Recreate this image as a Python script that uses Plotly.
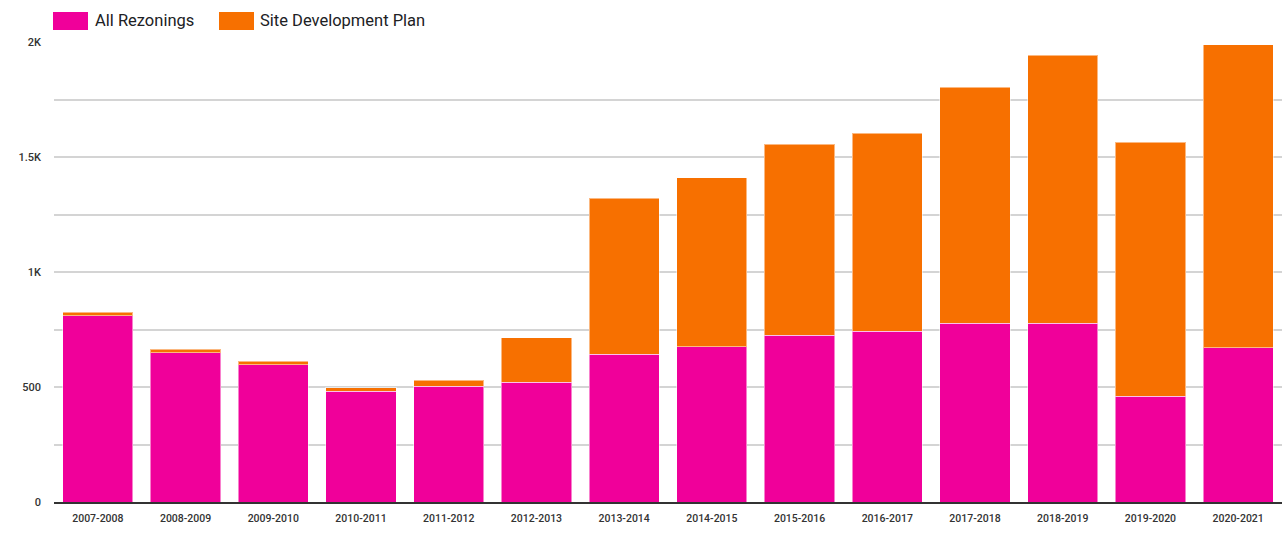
import plotly.graph_objects as go

years = ["2007-2008", "2008-2009", "2009-2010", "2010-2011", "2011-2012", "2012-2013", "2013-2014",
         "2014-2015", "2015-2016", "2016-2017", "2017-2018", "2018-2019", "2019-2020", "2020-2021"]
all_rezonings = [810, 648, 597, 481, 503, 520, 643, 675, 726, 742, 777, 777, 459, 671]
totals = [826, 664, 613, 497, 530, 714, 1320, 1410, 1555, 1604, 1803, 1943, 1564, 1987]
site_dev_plan = [t - a for t, a in zip(totals, all_rezonings)]

PINK = "#f0009a"
ORANGE = "#f77000"

fig = go.Figure()
fig.add_trace(go.Bar(x=years, y=all_rezonings, name="All Rezonings", marker_color=PINK,
                     marker_line=dict(width=1, color="rgba(255,255,255,0.5)")))
fig.add_trace(go.Bar(x=years, y=site_dev_plan, name="Site Development Plan", marker_color=ORANGE,
                     marker_line=dict(width=1, color="rgba(255,255,255,0.5)")))

fig.update_layout(
    barmode="stack",
    bargap=0.2,
    width=1287, height=533,
    margin=dict(l=54, r=5, t=42, b=31),
    plot_bgcolor="white", paper_bgcolor="white",
    showlegend=False,
    font=dict(family="Roboto", color="#333"),
)
fig.update_yaxes(
    range=[0, 2000], tickvals=[0, 500, 1000, 1500, 2000], ticktext=["0", "500", "1K", "1.5K", "2K"],
    showgrid=True, gridcolor="#d4d4d4", gridwidth=2,
    minor=dict(dtick=250, tick0=0, showgrid=True, gridcolor="#d4d4d4", gridwidth=1.5),
    zeroline=False, ticks="", ticklabelstandoff=12,
    tickfont=dict(size=11, color="#333", weight=500),
)
fig.update_xaxes(
    showline=True, linecolor="#333", linewidth=2,
    ticks="", ticklabelstandoff=5, tickfont=dict(size=10.5, color="#333", weight=500),
)

# legend drawn as swatches + text
legend_items = [("All Rezonings", PINK, 53, 93), ("Site Development Plan", ORANGE, 219, 258)]
for label, col, x0, tx in legend_items:
    fig.add_shape(type="rect", xref="paper", yref="paper",
                  x0=(x0 - 54) / 1228, x1=(x0 + 35 - 54) / 1228,
                  y0=(533 - 31 - 30) / 460, y1=(533 - 31 - 12) / 460,
                  fillcolor=col, line=dict(width=0))
    fig.add_annotation(text=label, xref="paper", yref="paper",
                       x=(tx - 54) / 1228, y=(533 - 31 - 21) / 460,
                       xanchor="left", yanchor="middle", showarrow=False,
                       font=dict(size=16.5, color="#202124", family="Roboto"))

fig.write_html("out.html", config={"displayModeBar": False},
               post_script="document.body.style.margin='0';document.body.style.overflow='hidden';")
